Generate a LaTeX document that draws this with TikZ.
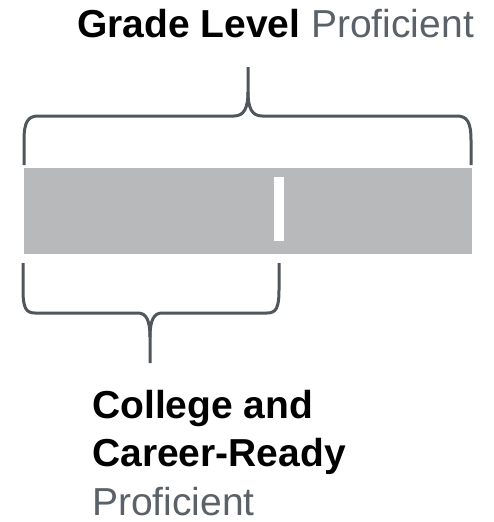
\documentclass[tikz,border=0pt]{standalone}
\usepackage{fontspec}
\setmainfont{Liberation Sans}
\definecolor{bargray}{HTML}{B8B9BB}
\definecolor{bracegray}{HTML}{50565C}
\definecolor{txtgray}{HTML}{5B6168}
\begin{document}
\begin{tikzpicture}[x=1pt,y=-1pt,
  brace/.style={draw=bracegray,line width=3pt,line cap=butt,line join=round},
  label/.style={inner sep=0pt,font=\fontsize{39}{48.5}\selectfont,text=black}]
\useasboundingbox (0,0) rectangle (493,522);
% score band and marker
\fill[bargray] (24,168) rectangle (472,254);
\fill[white] (274,177) rectangle (284,241);
% top brace spanning the whole band
\coordinate (tl) at (24,165);
\coordinate (tr) at (471,165);
\coordinate (ttip) at (248,67);
\draw[brace] (tl) -- (24,140) .. controls (24,122) and (28,116) .. (38,116)
  -- (234,116) .. controls (244,116) and (248,108) .. (248,92) -- (ttip);
\draw[brace] (248,92) .. controls (248,108) and (252,116) .. (262,116)
  -- (457,116) .. controls (467,116) and (471,122) .. (471,140) -- (tr);
% bottom brace spanning up to the marker
\coordinate (bl) at (23,263);
\coordinate (br) at (279,263);
\coordinate (btip) at (150,363);
\draw[brace] (bl) -- (23,290) .. controls (23,308) and (26,313) .. (35,313)
  -- (138,313) .. controls (146,313) and (150,320) .. (150,337) -- (btip);
\draw[brace] (150,337) .. controls (150,320) and (154,313) .. (162,313)
  -- (267,313) .. controls (276,313) and (279,308) .. (279,290) -- (br);
% labels
\node[label,anchor=base west] (gl) at (77,37)
  {\textbf{Grade Level} \textcolor{txtgray}{Proficient}};
\node[label,anchor=base west,align=left] (ccr) at (92,515)
  {\textbf{College and}\\\textbf{Career-Ready}\\\textcolor{txtgray}{Proficient}};
\end{tikzpicture}
\end{document}
